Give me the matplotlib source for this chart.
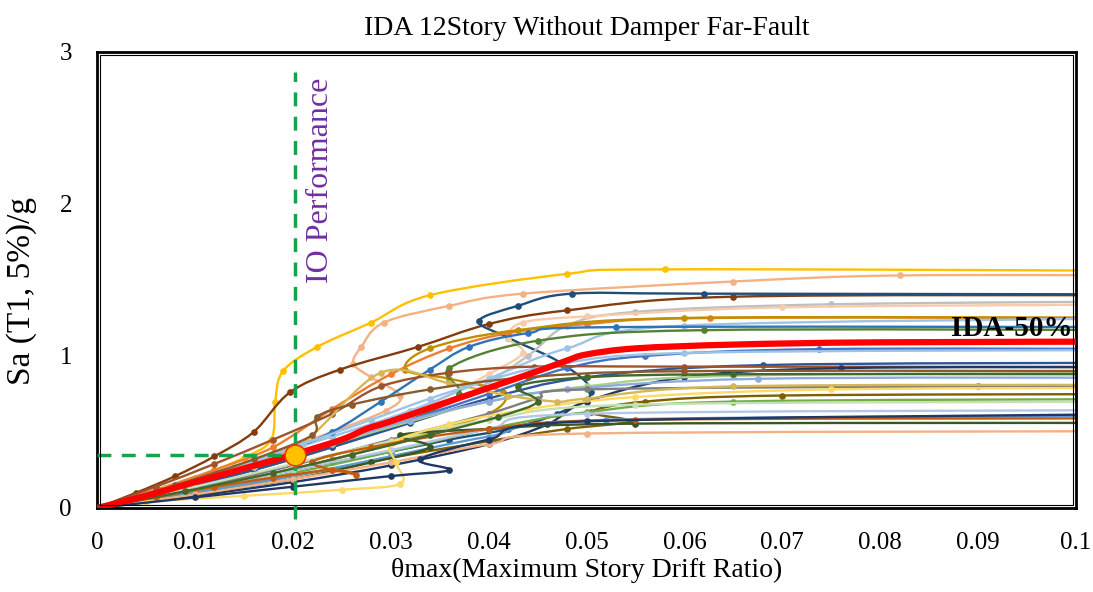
"""IDA curves, 12 story frame without damper, far-fault records."""

import matplotlib

matplotlib.use("Agg")
from matplotlib import pyplot as plt
from matplotlib.patches import PathPatch
from matplotlib.path import Path

import numpy as np

# drift ratio / Sa(T1) pairs, one pair of lists per record
gm01_x = [0, 0.005, 0.010, 0.015, 0.0178, 0.0182, 0.0190, 0.0225, 0.028, 0.034, 0.048, 0.058, 0.11]
gm01_y = [0, 0.09, 0.20, 0.33, 0.45, 0.70, 0.90, 1.06, 1.22, 1.40, 1.54, 1.57, 1.56]
gm02_x = [0, 0.006, 0.012, 0.018, 0.024, 0.0295, 0.031, 0.028, 0.0262, 0.027, 0.0293, 0.036, 0.0435, 0.065, 0.082, 0.11]
gm02_y = [0, 0.11, 0.23, 0.36, 0.50, 0.64, 0.74, 0.86, 0.95, 1.06, 1.22, 1.33, 1.41, 1.49, 1.53, 1.53]
gm03_x = [0, 0.004, 0.008, 0.012, 0.016, 0.0197, 0.0248, 0.0328, 0.040, 0.048, 0.065, 0.11]
gm03_y = [0, 0.10, 0.21, 0.34, 0.50, 0.76, 0.91, 1.06, 1.21, 1.30, 1.39, 1.40]
gm04_x = [0, 0.008, 0.016, 0.024, 0.030, 0.036, 0.042, 0.047, 0.0505, 0.0475, 0.042, 0.039, 0.043, 0.0485, 0.062, 0.11]
gm04_y = [0, 0.10, 0.20, 0.30, 0.37, 0.45, 0.52, 0.62, 0.76, 0.95, 1.12, 1.23, 1.33, 1.41, 1.41, 1.405]
gm05_x = [0, 0.008, 0.016, 0.024, 0.032, 0.038, 0.044, 0.048, 0.055, 0.075, 0.11]
gm05_y = [0, 0.13, 0.27, 0.42, 0.58, 0.75, 1.00, 1.20, 1.29, 1.34, 1.36]
gm06_x = [0, 0.007, 0.014, 0.021, 0.028, 0.034, 0.040, 0.0435, 0.042, 0.0435, 0.050, 0.070, 0.11]
gm06_y = [0, 0.12, 0.25, 0.38, 0.52, 0.68, 0.88, 1.02, 1.12, 1.22, 1.26, 1.32, 1.34]
gm07_x = [0, 0.006, 0.012, 0.018, 0.024, 0.030, 0.036, 0.042, 0.050, 0.0626, 0.11]
gm07_y = [0, 0.12, 0.25, 0.40, 0.65, 0.88, 1.05, 1.15, 1.21, 1.25, 1.25]
gm08_x = [0, 0.008, 0.016, 0.024, 0.032, 0.040, 0.0415, 0.036, 0.0315, 0.034, 0.043, 0.060, 0.11]
gm08_y = [0, 0.10, 0.20, 0.32, 0.46, 0.62, 0.76, 0.85, 0.91, 1.05, 1.17, 1.25, 1.25]
gm09_x = [0, 0.008, 0.016, 0.024, 0.032, 0.040, 0.048, 0.060, 0.11]
gm09_y = [0, 0.15, 0.31, 0.47, 0.64, 0.85, 1.05, 1.20, 1.25]
gm10_x = [0, 0.006, 0.012, 0.018, 0.024, 0.029, 0.034, 0.038, 0.044, 0.053, 0.11]
gm10_y = [0, 0.11, 0.22, 0.34, 0.50, 0.70, 0.91, 1.06, 1.15, 1.19, 1.19]
gm11_x = [0, 0.008, 0.016, 0.024, 0.032, 0.037, 0.036, 0.045, 0.062, 0.11]
gm11_y = [0, 0.12, 0.25, 0.40, 0.58, 0.75, 0.92, 1.10, 1.17, 1.17]
gm12_x = [0, 0.008, 0.016, 0.024, 0.032, 0.040, 0.048, 0.056, 0.0737, 0.11]
gm12_y = [0, 0.13, 0.27, 0.42, 0.58, 0.75, 0.92, 1.00, 1.045, 1.046]
gm13_x = [0, 0.008, 0.016, 0.024, 0.032, 0.040, 0.050, 0.068, 0.11]
gm13_y = [0, 0.12, 0.25, 0.40, 0.56, 0.72, 0.86, 0.94, 0.956]
gm14_x = [0, 0.006, 0.012, 0.018, 0.024, 0.029, 0.036, 0.0446, 0.060, 0.11]
gm14_y = [0, 0.14, 0.29, 0.45, 0.62, 0.80, 0.89, 0.93, 0.93, 0.927]
gm15_x = [0, 0.010, 0.020, 0.030, 0.040, 0.046, 0.050, 0.060, 0.076, 0.11]
gm15_y = [0, 0.08, 0.17, 0.28, 0.42, 0.55, 0.70, 0.86, 0.92, 0.927]
gm16_x = [0, 0.008, 0.016, 0.024, 0.032, 0.040, 0.050, 0.065, 0.11]
gm16_y = [0, 0.13, 0.27, 0.42, 0.57, 0.70, 0.80, 0.87, 0.89]
gm17_x = [0, 0.008, 0.016, 0.024, 0.032, 0.040, 0.048, 0.0675, 0.11]
gm17_y = [0, 0.14, 0.28, 0.43, 0.58, 0.70, 0.78, 0.85, 0.857]
gm18_x = [0, 0.010, 0.020, 0.030, 0.040, 0.045, 0.050, 0.090, 0.11]
gm18_y = [0, 0.13, 0.28, 0.45, 0.62, 0.72, 0.78, 0.80, 0.80]
gm19_x = [0, 0.010, 0.020, 0.030, 0.040, 0.048, 0.0545, 0.0505, 0.056, 0.070, 0.11]
gm19_y = [0, 0.10, 0.21, 0.33, 0.44, 0.52, 0.57, 0.63, 0.70, 0.74, 0.75]
gm20_x = [0, 0.010, 0.020, 0.030, 0.040, 0.050, 0.065, 0.11]
gm20_y = [0, 0.11, 0.23, 0.37, 0.52, 0.63, 0.70, 0.717]
gm21_x = [0, 0.010, 0.020, 0.030, 0.040, 0.055, 0.11]
gm21_y = [0, 0.14, 0.29, 0.44, 0.58, 0.68, 0.70]
gm22_x = [0, 0.010, 0.020, 0.030, 0.040, 0.050, 0.11]
gm22_y = [0, 0.12, 0.25, 0.38, 0.52, 0.62, 0.645]
gm23_x = [0, 0.010, 0.020, 0.030, 0.040, 0.052, 0.11]
gm23_y = [0, 0.10, 0.21, 0.34, 0.47, 0.58, 0.607]
gm24_x = [0, 0.010, 0.020, 0.028, 0.034, 0.031, 0.040, 0.055, 0.11]
gm24_y = [0, 0.09, 0.19, 0.30, 0.40, 0.48, 0.52, 0.555, 0.56]
gm25_x = [0, 0.010, 0.020, 0.030, 0.040, 0.050, 0.11]
gm25_y = [0, 0.09, 0.19, 0.30, 0.42, 0.49, 0.506]
gm26_x = [0, 0.005, 0.015, 0.025, 0.031, 0.0305, 0.0302, 0.036, 0.044, 0.055, 0.075, 0.11]
gm26_y = [0, 0.04, 0.08, 0.12, 0.16, 0.30, 0.43, 0.55, 0.65, 0.73, 0.78, 0.79]
gm27_x = [0, 0.006, 0.012, 0.018, 0.024, 0.0265, 0.022, 0.028, 0.040, 0.055, 0.11]
gm27_y = [0, 0.07, 0.14, 0.20, 0.25, 0.22, 0.30, 0.40, 0.52, 0.58, 0.59]
gm28_x = [0, 0.010, 0.020, 0.030, 0.036, 0.033, 0.040, 0.050, 0.11]
gm28_y = [0, 0.07, 0.14, 0.21, 0.25, 0.32, 0.45, 0.57, 0.62]
gm29_x = [0, 0.007, 0.014, 0.021, 0.029, 0.036, 0.042, 0.047, 0.050, 0.065, 0.11]
gm29_y = [0, 0.13, 0.27, 0.43, 0.89, 0.82, 0.74, 0.70, 0.72, 0.80, 0.81]
gm30_x = [0, 0.007, 0.014, 0.021, 0.028, 0.034, 0.040, 0.046, 0.060, 0.11]
gm30_y = [0, 0.12, 0.26, 0.42, 0.58, 0.72, 0.84, 0.93, 1.02, 1.04]
gm31_x = [0, 0.009, 0.018, 0.026, 0.034, 0.041, 0.045, 0.043, 0.050, 0.065, 0.11]
gm31_y = [0, 0.11, 0.23, 0.35, 0.48, 0.60, 0.70, 0.80, 0.86, 0.88, 0.88]
gm32_x = [0, 0.008, 0.016, 0.022, 0.0225, 0.026, 0.034, 0.044, 0.060, 0.11]
gm32_y = [0, 0.15, 0.32, 0.48, 0.60, 0.68, 0.78, 0.86, 0.90, 0.90]

record_colors = [
    "#FFC000", "#F4B183", "#843C0C", "#1F4E79", "#BFBFBF", "#F8CBAD", "#ED7D31",
    "#BF9000", "#9DC3E6", "#2E75B6", "#548235", "#4472C4", "#2F5597", "#A0522D",
    "#203864", "#A9D18E", "#8FAADC", "#7F7F7F", "#7F6000", "#70AD47", "#C5E0B4",
    "#B4C7E7", "#5B9BD5", "#385723", "#F4B183", "#FFD966", "#C55A11", "#203864",
    "#D6B656", "#9DC3E6", "#43682B", "#8B5A2B",
]

# 50% fractile curve
median_x = [0, 0.005, 0.010, 0.015, 0.020, 0.025, 0.0275, 0.030, 0.035, 0.040, 0.045, 0.048, 0.050, 0.055, 0.065, 0.080, 0.11]
median_y = [0, 0.08, 0.17, 0.26, 0.35, 0.45, 0.52, 0.57, 0.68, 0.79, 0.90, 0.97, 1.01, 1.05, 1.075, 1.09, 1.095]

io_drift = 0.0202
io_sa = 0.35


def smooth_path(xs, ys):
    """Excel-like smoothed line: Catmull-Rom segments as cubic Beziers."""
    pts = np.column_stack([xs, ys]).astype(float)
    n = len(pts)
    verts = [pts[0]]
    codes = [Path.MOVETO]
    for i in range(n - 1):
        p0 = pts[max(i - 1, 0)]
        p1 = pts[i]
        p2 = pts[i + 1]
        p3 = pts[min(i + 2, n - 1)]
        verts += [p1 + (p2 - p0) / 6, p2 - (p3 - p1) / 6, p2]
        codes += [Path.CURVE4] * 3
    return Path(verts, codes)


records = [
    (gm01_x, gm01_y), (gm02_x, gm02_y), (gm03_x, gm03_y), (gm04_x, gm04_y),
    (gm05_x, gm05_y), (gm06_x, gm06_y), (gm07_x, gm07_y), (gm08_x, gm08_y),
    (gm09_x, gm09_y), (gm10_x, gm10_y), (gm11_x, gm11_y), (gm12_x, gm12_y),
    (gm13_x, gm13_y), (gm14_x, gm14_y), (gm15_x, gm15_y), (gm16_x, gm16_y),
    (gm17_x, gm17_y), (gm18_x, gm18_y), (gm19_x, gm19_y), (gm20_x, gm20_y),
    (gm21_x, gm21_y), (gm22_x, gm22_y), (gm23_x, gm23_y), (gm24_x, gm24_y),
    (gm25_x, gm25_y), (gm26_x, gm26_y), (gm27_x, gm27_y), (gm28_x, gm28_y),
    (gm29_x, gm29_y), (gm30_x, gm30_y), (gm31_x, gm31_y), (gm32_x, gm32_y),
]

plt.rcParams["font.family"] = ["Liberation Serif", "DejaVu Serif"]

fig = plt.figure(figsize=(10.93, 5.92), dpi=100)
ax = fig.add_axes([0.0887, 0.1419, 0.8958, 0.7703])

for (xs, ys), color in zip(records, record_colors):
    ax.add_patch(PathPatch(smooth_path(xs, ys), fill=False, edgecolor=color, lw=1.7, zorder=2))
    ax.plot(xs, ys, "o", color=color, ms=3.8, zorder=2)

ax.add_patch(PathPatch(smooth_path(median_x, median_y), fill=False, edgecolor="#FF0000",
                       lw=4.5, capstyle="round", zorder=3))

# IO performance level
ax.plot([io_drift, io_drift], [-0.07, 2.87], color="#17A34A", lw=2.5,
        dashes=(4, 3), clip_on=False, zorder=4)
ax.plot([0, io_drift], [io_sa, io_sa], color="#17A34A", lw=2.5, dashes=(4, 3), zorder=4)
ax.plot([io_drift], [io_sa], "o", ms=15, mfc="#FFC000", mec="#FF3300", mew=1.2, zorder=5)
ax.text(0.0228, 2.83, "IO Performance", rotation=90, ha="center", va="top",
        color="#7030A0", fontsize=23)
ax.text(0.0997, 1.18, "IDA-50%", ha="right", va="center", fontsize=21, fontweight="bold",
        color="black")

ax.set_xlim(0, 0.1)
ax.set_ylim(0, 3)
ax.set_xticks(np.arange(0, 0.101, 0.01))
ax.set_xticklabels(["0", "0.01", "0.02", "0.03", "0.04", "0.05", "0.06", "0.07", "0.08", "0.09", "0.1"])
ax.set_yticks([0, 1, 2, 3])
ax.tick_params(length=0, labelsize=18)
ax.tick_params(axis="x", pad=17)
ax.tick_params(axis="y", pad=18)
for spine in ax.spines.values():
    spine.set_linewidth(2)
# thin inner line of the double frame
ax.plot([0.003, 0.003, 0.997, 0.997, 0.003], [0.006, 0.994, 0.994, 0.006, 0.006],
        color="black", lw=0.8, transform=ax.transAxes, clip_on=False, zorder=6)

ax.set_title("IDA 12Story Without Damper Far-Fault", fontsize=20, pad=12)
ax.set_xlabel("\u03b8max(Maximum Story Drift Ratio)", fontsize=20, labelpad=3)
ax.set_ylabel("Sa (T1, 5%)/g", fontsize=24)
ax.yaxis.set_label_coords(-0.061, 0.476)

fig.savefig("out.png", dpi=100)
